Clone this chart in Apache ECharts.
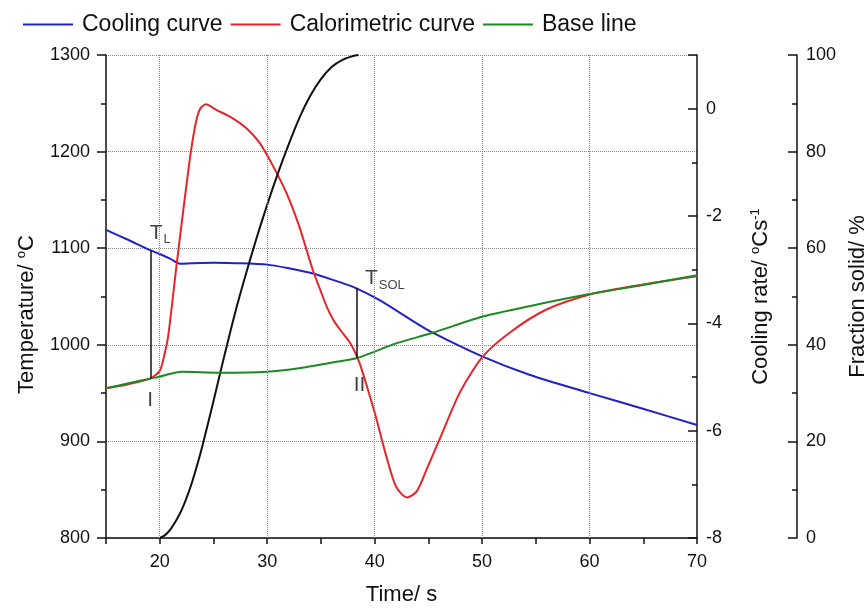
<!DOCTYPE html>
<html>
<head>
<meta charset="utf-8">
<script src="https://cdn.jsdelivr.net/npm/echarts@6/dist/echarts.min.js"></script>
<style>html,body{margin:0;padding:0;background:#fff;}</style>
</head>
<body>
<div id="main" style="width:868px;height:609px;"></div>
<script type="text/javascript">
// cooling curve (left axis, degC)
var coolTime = [15, 17, 19.1, 20, 21, 21.9, 23, 25, 27, 30, 32.1, 34, 35.9, 38.2, 40.5, 43.8, 45.4, 50, 54.4, 60, 65.2, 70];
var coolTemp = [1119, 1109, 1098, 1094, 1089, 1084, 1084.5, 1085, 1084.5, 1083, 1079, 1074.5, 1068, 1059, 1046, 1023, 1012.5, 988, 969, 950, 933, 917];

// calorimetric curve (left axis)
var caloTime = [15, 17, 19.1, 20, 20.4, 20.8, 21.55, 22.2, 22.9, 23.4, 23.8, 24.3, 25.3, 26.8, 28.1, 29.3, 30.5, 31.8, 33.0, 34.2, 35.0, 35.6, 36.2, 36.9, 37.6, 38.1, 38.6, 39.2, 40.1, 41.1, 42.0, 43.0, 43.9, 44.8, 46.0, 47.9, 50.0, 52.5, 55.9, 60.0, 63.7, 67, 70];
var caloTemp = [955, 959, 965, 973, 988, 1010, 1081, 1140, 1200, 1232, 1245, 1249, 1243, 1234.5, 1224, 1209, 1186, 1157, 1122, 1079, 1055, 1038, 1025, 1014, 1004, 994, 981, 960, 926, 884, 853, 842, 848, 870, 901, 950, 987, 1012, 1036, 1052, 1060, 1066, 1071];

// base line (left axis)
var baseTime = [15, 17, 19.1, 20, 21, 22, 25.6, 30, 33.1, 36.2, 38.3, 40, 42, 45.4, 50, 54.4, 60, 65, 70];
var baseTemp = [955, 960, 965, 967, 970, 972, 971, 972, 976, 982, 986, 993, 1001.5, 1012.5, 1029, 1040, 1052.5, 1062, 1072];

// fraction solid (third axis, %)
var fsTime = [20, 20.5, 21, 21.5, 22, 22.5, 23, 23.5, 24, 25, 26, 27, 28, 29, 30, 31, 32, 33, 34, 35, 36, 37, 38, 38.5];
var fsValue = [0, 0.6, 1.8, 3.5, 5.6, 8.3, 11.5, 15.2, 19.3, 28.3, 37.6, 46.5, 54.5, 62, 69, 75.5, 81.5, 87, 91.5, 95, 97.5, 99, 99.8, 100];

// vertical grid lines
var gridTimes = [20, 30, 40, 50, 60];

// T_L and T_SOL markers
var markTime = [19.15, 38.35];
var markTop = [1098, 1059];
var markBottom = [965, 986];

// annotation texts
var noteTime = [20.05, 40.95, 19.1, 38.6];
var noteTemp = [1116, 1069, 943, 958];
var noteText = ['{m|T}{s|L}', '{m|T}{s|SOL}', '{m|I}', '{m|II}'];

var FONT = 'Liberation Sans';
var INK = '#111';

function pairs(xs, ys) {
    return xs.map(function (x, i) { return [x, ys[i]]; });
}

var myChart = echarts.init(document.getElementById('main'));

var supRich = {
    sup: { fontSize: 13, fontFamily: FONT, color: INK, padding: [0, 0, 10, 0] }
};

function plain(v) { return String(v); }

option = {
    backgroundColor: '#fff',
    animation: false,
    textStyle: { fontFamily: FONT, color: INK },
    legend: {
        data: ['Cooling curve', 'Calorimetric curve', 'Base line'],
        left: 18,
        top: 8,
        icon: 'rect',
        itemWidth: 50,
        itemHeight: 2,
        itemGap: 8,
        textStyle: { fontSize: 23, fontFamily: FONT, color: INK, padding: [0, 0, 0, 4] }
    },
    grid: { left: 106, right: 171, top: 55, bottom: 71, containLabel: false, outerBoundsMode: 'none' },
    xAxis: {
        type: 'value',
        min: 15,
        max: 70,
        interval: 5,
        name: 'Time/ s',
        nameLocation: 'middle',
        nameGap: 46,
        nameTextStyle: { fontSize: 22, fontFamily: FONT, color: INK },
        axisLine: { onZero: false, lineStyle: { color: INK, width: 1.5 } },
        axisTick: { length: 6, lineStyle: { color: INK, width: 1.5 } },
        axisLabel: {
            fontSize: 18, color: INK, fontFamily: FONT, margin: 15,
            formatter: function (v) { return v % 10 === 0 ? String(v) : ''; }
        },
        splitLine: { show: false }
    },
    yAxis: [{
        type: 'value',
        position: 'left',
        min: 800,
        max: 1300,
        interval: 100,
        name: 'Temperature/ {sup|o}C',
        nameLocation: 'middle',
        nameRotate: 90,
        nameGap: 68,
        nameTextStyle: { fontSize: 22, fontFamily: FONT, color: INK, padding: [0, 36, 0, 0], rich: supRich },
        axisLine: { show: true, onZero: false, lineStyle: { color: INK, width: 1.5 } },
        axisTick: { show: true, length: 9, lineStyle: { color: INK, width: 1.5 } },
        minorTick: { show: true, splitNumber: 2, length: 5, lineStyle: { color: INK, width: 1.5 } },
        axisLabel: { fontSize: 18, color: INK, fontFamily: FONT, margin: 16, formatter: plain },
        splitLine: { show: true, lineStyle: { color: '#888', type: 'dotted', width: 1 } }
    }, {
        type: 'value',
        position: 'right',
        min: -8,
        max: 1,
        interval: 2,
        name: 'Cooling rate/ {sup|o}Cs{sup|-1}',
        nameLocation: 'middle',
        nameRotate: 90,
        nameGap: 52,
        nameTextStyle: { fontSize: 22, fontFamily: FONT, color: INK, rich: supRich },
        axisLine: { show: true, onZero: false, lineStyle: { color: INK, width: 1.5 } },
        axisTick: { show: true, inside: true, length: 9, lineStyle: { color: INK, width: 1.5 } },
        minorTick: { show: true, splitNumber: 2, length: 5, lineStyle: { color: INK, width: 1.5 } },
        axisLabel: { fontSize: 18, color: INK, fontFamily: FONT, margin: 9, showMaxLabel: false, formatter: plain },
        splitLine: { show: false }
    }, {
        type: 'value',
        position: 'right',
        offset: 100,
        min: 0,
        max: 100,
        interval: 20,
        name: 'Fraction solid/ %',
        nameLocation: 'middle',
        nameRotate: 90,
        nameGap: 48,
        nameTextStyle: { fontSize: 22, fontFamily: FONT, color: INK },
        axisLine: { show: true, onZero: false, lineStyle: { color: INK, width: 1.5 } },
        axisTick: { show: true, inside: true, length: 9, lineStyle: { color: INK, width: 1.5 } },
        minorTick: { show: true, splitNumber: 2, length: 5, lineStyle: { color: INK, width: 1.5 } },
        axisLabel: { fontSize: 18, color: INK, fontFamily: FONT, margin: 9, formatter: plain },
        splitLine: { show: false }
    }],
    series: [{
        name: 'grid',
        type: 'line',
        data: [],
        z: 1,
        silent: true,
        markLine: {
            silent: true,
            symbol: 'none',
            label: { show: false },
            lineStyle: { color: '#888', type: 'dotted', width: 1 },
            data: gridTimes.map(function (t) { return { xAxis: t }; })
        }
    }, {
        name: 'Cooling curve',
        type: 'line',
        data: pairs(coolTime, coolTemp),
        symbol: 'none',
        smooth: 0.25,
        z: 3,
        color: '#1f22c4',
        lineStyle: { width: 2, color: '#1f22c4' }
    }, {
        name: 'Calorimetric curve',
        type: 'line',
        data: pairs(caloTime, caloTemp),
        symbol: 'none',
        smooth: 0.25,
        z: 3,
        color: '#e8242a',
        lineStyle: { width: 2, color: '#e8242a' }
    }, {
        name: 'Base line',
        type: 'line',
        data: pairs(baseTime, baseTemp),
        symbol: 'none',
        smooth: 0.25,
        z: 4,
        color: '#1b8a22',
        lineStyle: { width: 2, color: '#1b8a22' }
    }, {
        name: 'Fraction solid',
        type: 'line',
        yAxisIndex: 2,
        data: pairs(fsTime, fsValue),
        symbol: 'none',
        smooth: 0.25,
        z: 3,
        color: '#111',
        lineStyle: { width: 2, color: '#111' }
    }, {
        name: 'notes',
        type: 'scatter',
        data: pairs(noteTime, noteTemp),
        symbolSize: 0,
        z: 5,
        silent: true,
        label: {
            show: true,
            position: 'inside',
            formatter: function (p) { return noteText[p.dataIndex]; },
            rich: {
                m: { fontSize: 21, fontFamily: FONT, color: INK },
                s: { fontSize: 13, fontFamily: FONT, color: INK, padding: [14, 0, 0, 1] }
            }
        },
        markLine: {
            silent: true,
            symbol: 'none',
            label: { show: false },
            lineStyle: { color: INK, type: 'solid', width: 1.5 },
            data: markTime.map(function (t, i) {
                return [{ coord: [t, markTop[i]] }, { coord: [t, markBottom[i]] }];
            })
        }
    }]
};

myChart.setOption(option);
</script>
</body>
</html>
